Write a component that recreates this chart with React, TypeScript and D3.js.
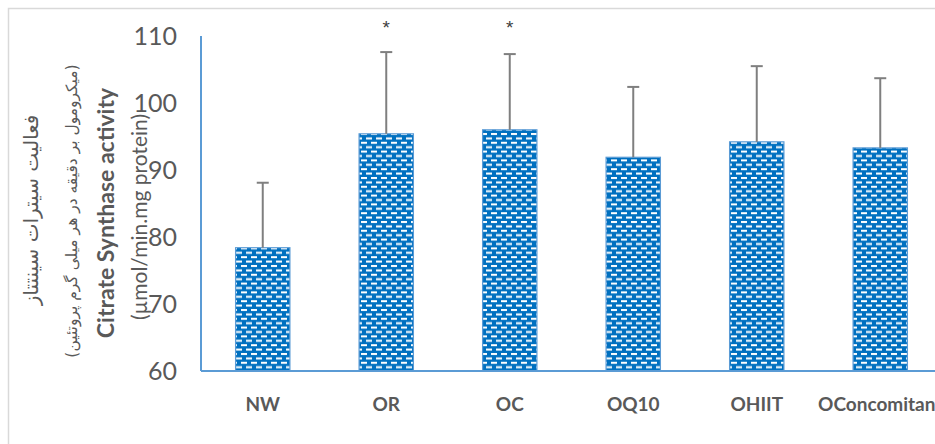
import React from "react";
import * as d3 from "d3";

const categories = ["NW", "OR", "OC", "OQ10", "OHIIT", "OConcomitant"];
const means = [78.4, 95.4, 96.0, 91.9, 94.2, 93.3];
const errors = [9.7, 12.2, 11.3, 10.5, 11.3, 10.4];
const significant = [false, true, true, false, false, false];
const yTicks = [60, 70, 80, 90, 100, 110];

const W = 935;
const H = 444;
const plotLeft = 201;
const plotTop = 36;
const plotBottom = 371;
const bandStep = 123.5;

export default function App() {
  const x = d3
    .scaleBand<string>()
    .domain(categories)
    .range([plotLeft, plotLeft + bandStep * categories.length])
    .paddingInner(0.56)
    .paddingOuter(0.28);
  const y = d3.scaleLinear().domain([60, 110]).range([plotBottom, plotTop]);
  const bw = x.bandwidth();
  const grey = "#595959";
  const latin = "Lato, 'Open Sans', sans-serif";

  return (
    <svg
      width={W}
      height={H}
      style={{ position: "absolute", left: 0, top: 0, background: "#fff" }}
    >
      <defs>
        <pattern id="dash" width={10} height={8.8} patternUnits="userSpaceOnUse">
          <rect width={10} height={8.8} fill="#0070c0" />
          <rect x={1} y={1} width={6} height={2} fill="#ffffff" />
          <rect x={6} y={5.4} width={6} height={2} fill="#ffffff" />
          <rect x={-4} y={5.4} width={6} height={2} fill="#ffffff" />
        </pattern>
      </defs>
      <rect x={8.5} y={8.5} width={W} height={H} fill="none" stroke="#d9d9d9" strokeWidth={1.5} />

      {yTicks.map((t) => (
        <text
          key={t}
          x={177}
          y={y(t)}
          dy="0.36em"
          textAnchor="end"
          fontFamily={latin}
          fontSize={25}
          fill={grey}
        >
          {t}
        </text>
      ))}

      {categories.map((c, i) => {
        const cx = (x(c) as number) + bw / 2;
        const top = y(means[i]);
        const eTop = y(means[i] + errors[i]);
        return (
          <g key={c}>
            <rect
              x={x(c)}
              y={top}
              width={bw}
              height={plotBottom - top}
              fill="url(#dash)"
              stroke="#5b9bd5"
              strokeWidth={1.2}
            />
            <line x1={cx} x2={cx} y1={top} y2={eTop} stroke="#7f7f7f" strokeWidth={2} />
            <line x1={cx - 6} x2={cx + 6} y1={eTop} y2={eTop} stroke="#7f7f7f" strokeWidth={2} />
            {significant[i] && (
              <text
                x={cx}
                y={34}
                textAnchor="middle"
                fontFamily="'Liberation Sans', Arial, sans-serif"
                fontSize={19}
                fill="#404040"
              >
                *
              </text>
            )}
            <text
              x={cx}
              y={411}
              textAnchor="middle"
              fontFamily={latin}
              fontWeight="bold"
              fontSize={19}
              fill={grey}
            >
              {c}
            </text>
          </g>
        );
      })}

      <line x1={plotLeft} x2={plotLeft} y1={plotTop} y2={plotBottom} stroke="#5b9bd5" strokeWidth={2} />
      <line x1={plotLeft} x2={W} y1={plotBottom} y2={plotBottom} stroke="#5b9bd5" strokeWidth={2} />

      <text
        transform="translate(38,210) rotate(-90)"
        textAnchor="middle"
        fontFamily="'DejaVu Sans', sans-serif"
        fontSize={20}
        fill={grey}
      >
        فعالیت سیترات سینتتاز
      </text>
      <text
        transform="translate(77,211) rotate(-90)"
        textAnchor="middle"
        fontFamily="'DejaVu Sans', sans-serif"
        fontSize={15.5}
        fill={grey}
      >
        (میکرومول بر دقیقه در هر میلی گرم پروتئین)
      </text>
      <text
        transform="translate(114,213) rotate(-90)"
        textAnchor="middle"
        fontFamily={latin}
        fontWeight="bold"
        fontSize={23}
        fill={grey}
      >
        Citrate Synthase activity
      </text>
      <text
        transform="translate(147,217) rotate(-90)"
        textAnchor="middle"
        fontFamily={latin}
        fontSize={21}
        fill={grey}
      >
        (µmol/min.mg protein)
      </text>
    </svg>
  );
}
